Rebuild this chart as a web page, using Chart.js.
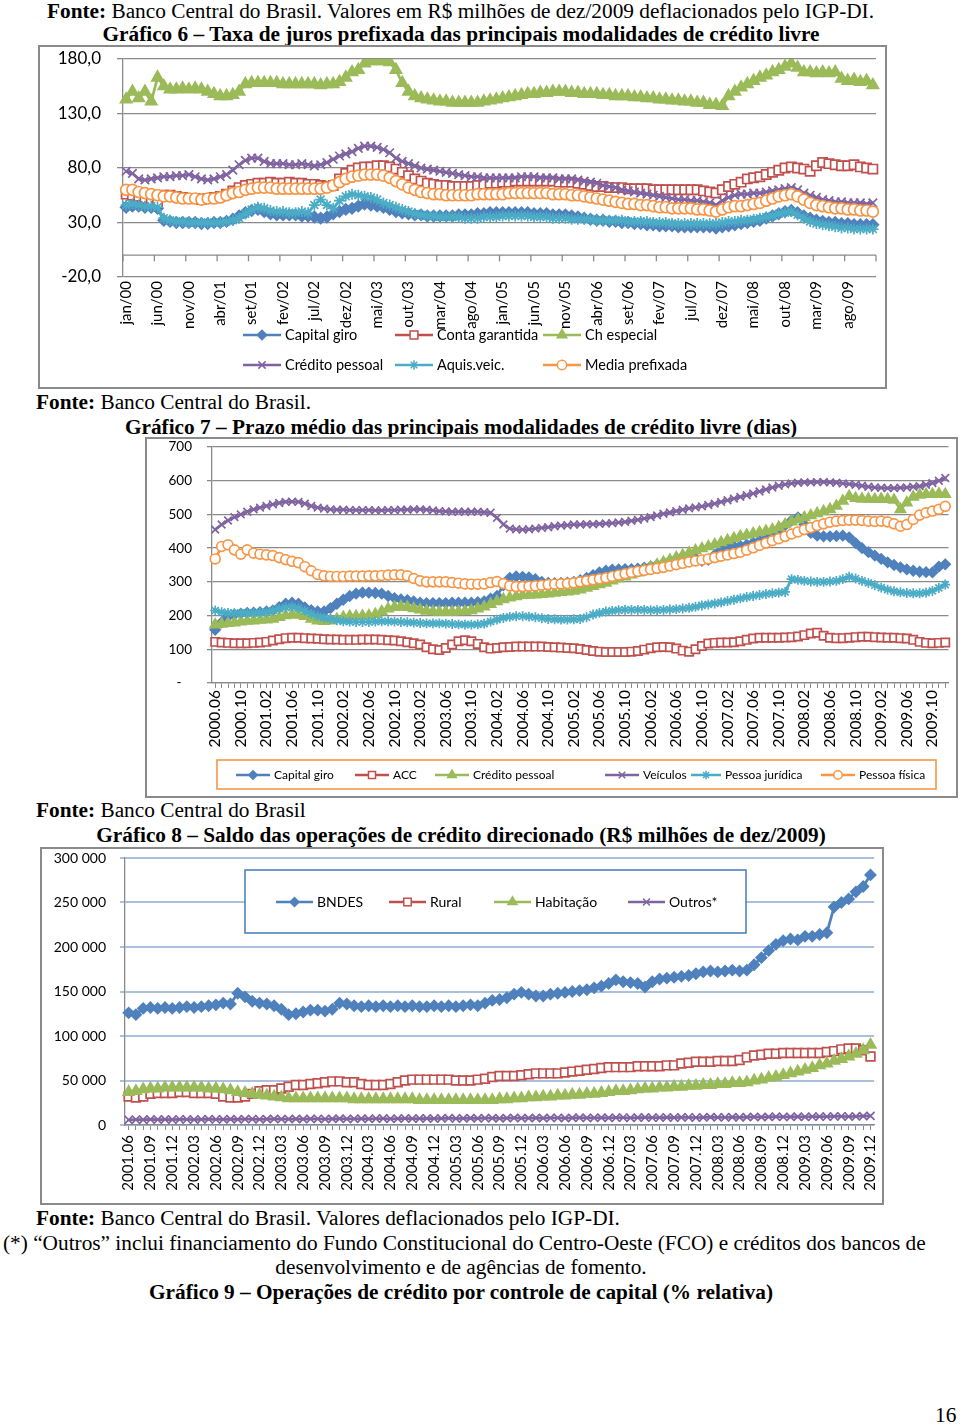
<!DOCTYPE html>
<html lang="pt-BR">
<head>
<meta charset="utf-8">
<title>Gráficos 6 a 8 – crédito livre e direcionado</title>
<script src="https://cdn.jsdelivr.net/npm/chart.js@4"></script>
<style>
  body { margin: 0; background: #fff; width: 960px; height: 1425px; position: relative; overflow: hidden; }
  .t { position: absolute; font-family: 'Liberation Serif', 'Times New Roman', serif; font-size: 21.3px;
       line-height: 24px; white-space: nowrap; color: #000; }
  .c { left: 0; width: 922px; text-align: center; }
  .b { font-weight: bold; }
  canvas { position: absolute; }
  .caixa { position: absolute; border: 2px solid #8a8a8a; box-sizing: border-box; }
</style>
</head>
<body>

<div class="t" style="left:47px;top:-1px"><b>Fonte:</b> Banco Central do Brasil. Valores em R$ milhões de dez/2009 deflacionados pelo IGP-DI.</div>
<div class="t c b" style="top:22px">Gráfico 6 – Taxa de juros prefixada das principais modalidades de crédito livre</div>

<canvas id="g6" width="847" height="342" style="left:39px;top:46px"></canvas>
<div class="caixa" style="left:38px;top:45px;width:849px;height:344px"></div>

<div class="t" style="left:36px;top:390px"><b>Fonte:</b> Banco Central do Brasil.</div>
<div class="t c b" style="top:415px">Gráfico 7 – Prazo médio das principais modalidades de crédito livre (dias)</div>

<canvas id="g7" width="810" height="357" style="left:146px;top:439px"></canvas>
<div class="caixa" style="left:145px;top:437px;width:813px;height:361px"></div>

<div class="t" style="left:36px;top:798px"><b>Fonte:</b> Banco Central do Brasil</div>
<div class="t c b" style="top:823px">Gráfico 8 – Saldo das operações de crédito direcionado (R$ milhões de dez/2009)</div>

<canvas id="g8" width="841" height="356" style="left:41px;top:848px"></canvas>
<div class="caixa" style="left:40px;top:847px;width:844px;height:358px"></div>

<div class="t" style="left:36px;top:1206px"><b>Fonte:</b> Banco Central do Brasil. Valores deflacionados pelo IGP-DI.</div>
<div class="t" style="left:3px;top:1231px">(*) “Outros” inclui financiamento do Fundo Constitucional do Centro-Oeste (FCO) e créditos dos bancos de</div>
<div class="t c" style="top:1255px">desenvolvimento e de agências de fomento.</div>
<div class="t c b" style="top:1280px">Gráfico 9 – Operações de crédito por controle de capital (% relativa)</div>
<div class="t" style="left:935px;top:1403px">16</div>

<script>
// ---------- rótulos ----------
const mesesAbrev = ['jan', 'fev', 'mar', 'abr', 'mai', 'jun', 'jul', 'ago', 'set', 'out', 'nov', 'dez'];

const rotulos6 = [];   // jan/00 .. dez/09
for (let a = 2000; a <= 2009; a++) {
    for (const m of mesesAbrev) rotulos6.push(m + '/' + String(a).slice(2));
}
const rotulos7 = [];   // 2000.06 .. 2009.12
const rotulos8 = [];   // 2001.06 .. 2009.12
for (let a = 2000; a <= 2009; a++) {
    for (let m = 1; m <= 12; m++) {
        const r = a + '.' + String(m).padStart(2, '0');
        if (a > 2000 || m >= 6) rotulos7.push(r);
        if (a > 2001 || (a === 2001 && m >= 6)) rotulos8.push(r);
    }
}

// ---------- Gráfico 6: taxa de juros (% a.a.) ----------
const capitalGiro6 = [
    44, 45, 45, 44, 44, 43, 32, 31, 30, 30,
    30, 30, 29, 29, 30, 30, 31, 33, 36, 39,
    41, 42, 40, 38, 37, 37, 37, 37, 36, 36,
    35, 34, 35, 38, 40, 42, 43, 45, 47, 46,
    45, 44, 42, 40, 39, 38, 37, 37, 36, 36,
    36, 36, 36, 37, 37, 37, 38, 38, 39, 39,
    39, 39, 39, 39, 39, 38, 38, 38, 37, 37,
    37, 36, 35, 34, 33, 32, 32, 31, 31, 30,
    30, 29, 29, 28, 28, 27, 27, 27, 26, 26,
    26, 26, 26, 26, 25, 26, 27, 28, 29, 30,
    31, 32, 34, 36, 38, 40, 41, 39, 36, 34,
    32, 31, 30, 30, 29, 29, 28, 28, 28, 28
];
const contaGarantida6 = [
    56, 55, 54, 52, 50, 48, 55, 55, 54, 53,
    52, 52, 51, 52, 53, 54, 56, 59, 62, 64,
    65, 66, 66, 67, 66, 66, 67, 66, 66, 65,
    65, 64, 63, 64, 70, 75, 78, 80, 81, 81,
    82, 82, 81, 79, 76, 73, 70, 68, 66, 65,
    64, 64, 63, 63, 63, 63, 64, 65, 66, 66,
    67, 67, 68, 68, 68, 68, 68, 68, 68, 67,
    67, 67, 66, 65, 64, 63, 63, 62, 62, 62,
    61, 61, 61, 61, 60, 60, 60, 60, 60, 60,
    60, 60, 59, 58, 57, 60, 63, 65, 67, 70,
    71, 72, 74, 76, 78, 80, 81, 80, 79, 77,
    82, 85, 84, 83, 82, 82, 83, 81, 80, 79
];
const chEspecial6 = [
    143, 150, 144, 150, 141, 163, 155, 152, 152, 153,
    152, 153, 152, 150, 148, 146, 146, 147, 150, 157,
    158, 158, 158, 158, 158, 157, 157, 157, 157, 157,
    157, 156, 157, 157, 159, 163, 168, 170, 176, 178,
    178, 178, 177, 170, 158, 150, 146, 144, 143, 142,
    141, 141, 140, 140, 140, 140, 140, 141, 142, 143,
    144, 145, 146, 147, 148, 148, 149, 149, 150, 150,
    150, 149, 149, 148, 148, 148, 147, 147, 146, 146,
    146, 145, 145, 144, 144, 143, 143, 142, 142, 141,
    141, 140, 140, 138, 138, 137, 146, 150, 154, 157,
    160, 163, 165, 168, 170, 173, 176, 172, 168, 168,
    167, 168, 167, 168, 162, 160, 161, 159, 160, 156
];
const creditoPessoal6 = [
    77, 75, 70, 69, 70, 71, 72, 72, 73, 73,
    74, 72, 70, 69, 70, 72, 74, 78, 83, 87,
    89, 89, 86, 84, 84, 84, 83, 83, 84, 83,
    82, 83, 85, 88, 91, 93, 95, 98, 100, 100,
    99, 97, 94, 89, 86, 84, 82, 80, 79, 78,
    77, 76, 75, 74, 73, 72, 72, 71, 71, 71,
    71, 71, 71, 72, 72, 72, 71, 71, 71, 70,
    70, 70, 69, 68, 67, 66, 64, 63, 62, 60,
    59, 58, 57, 56, 55, 54, 53, 52, 51, 51,
    50, 50, 49, 48, 46, 50, 53, 55, 56, 56,
    57, 57, 58, 59, 60, 61, 62, 60, 57, 55,
    53, 51, 50, 49, 49, 48, 48, 48, 47, 48
];
const aquisVeic6 = [
    46, 47, 46, 45, 45, 44, 34, 32, 31, 31,
    30, 30, 30, 30, 30, 30, 31, 32, 34, 38,
    42, 44, 43, 41, 40, 40, 39, 39, 40, 39,
    46, 51, 46, 43, 50, 54, 56, 55, 54, 53,
    51, 48, 46, 44, 42, 40, 38, 37, 36, 36,
    35, 35, 35, 35, 34, 34, 34, 35, 35, 35,
    36, 36, 36, 36, 36, 35, 35, 35, 34, 34,
    34, 33, 33, 33, 33, 32, 32, 32, 32, 32,
    31, 31, 31, 31, 30, 30, 30, 29, 29, 29,
    29, 29, 29, 29, 29, 30, 31, 31, 32, 32,
    33, 34, 35, 36, 38, 39, 40, 37, 34, 31,
    29, 28, 27, 26, 25, 25, 24, 24, 24, 24
];
const mediaPrefixada6 = [
    60, 60, 58, 57, 56, 55, 54, 54, 53, 52,
    52, 52, 51, 52, 52, 53, 55, 57, 58, 60,
    61, 62, 62, 62, 61, 61, 61, 61, 61, 61,
    61, 61, 62, 64, 67, 70, 72, 73, 74, 74,
    74, 73, 71, 68, 65, 62, 60, 58, 57, 56,
    56, 55, 55, 55, 55, 55, 56, 56, 56, 56,
    56, 57, 57, 57, 57, 57, 57, 57, 56, 56,
    56, 55, 55, 54, 53, 52, 51, 50, 49, 48,
    47, 47, 46, 46, 45, 44, 44, 43, 43, 43,
    43, 42, 42, 41, 40, 42, 44, 45, 45, 46,
    47, 48, 50, 52, 54, 55, 56, 54, 51, 48,
    46, 45, 44, 43, 43, 42, 42, 41, 41, 40
];

// ---------- Gráfico 7: prazo médio (dias) ----------
const capitalGiro7 = [
    158, 180, 197, 203, 206, 208, 209, 210, 212, 215,
    225, 235, 238, 235, 224, 216, 212, 212, 222, 235,
    247, 258, 265, 268, 268, 267, 265, 258, 252, 248,
    246, 242, 238, 237, 237, 237, 237, 238, 238, 238,
    238, 240, 242, 250, 258, 290, 312, 316, 315, 313,
    308, 300, 297, 296, 297, 298, 300, 305, 312, 320,
    328, 333, 336, 337, 338, 338, 339, 342, 346, 350,
    356, 362, 368, 374, 377, 370, 362, 365, 380, 395,
    403, 405, 407, 410, 416, 422, 428, 435, 450, 468,
    482, 491, 470, 445, 437, 435, 435, 436, 437, 432,
    415, 400, 388, 378, 368, 358, 350, 343, 337, 333,
    330, 329, 328, 345, 352
];
const acc7 = [
    122, 120, 119, 118, 118, 118, 119, 120, 122, 126,
    130, 133, 134, 134, 133, 132, 131, 130, 129, 129,
    128, 128, 128, 129, 129, 129, 128, 127, 126, 124,
    121, 118, 114, 106, 100, 98, 104, 114, 124, 127,
    124, 116, 106, 102, 104, 106, 107, 108, 108, 108,
    108, 108, 107, 106, 105, 104, 103, 101, 98, 95,
    93, 92, 92, 92, 92, 93, 95, 99, 103, 106,
    107, 106, 102, 96, 93, 100, 110, 117, 119, 120,
    120, 121, 124, 128, 132, 134, 134, 134, 134, 135,
    136, 138, 142, 147, 149, 140, 134, 133, 133, 134,
    136, 137, 137, 136, 135, 134, 134, 133, 132, 128,
    122, 119, 118, 119, 120
];
const creditoPessoal7 = [
    173, 175, 177, 179, 182, 184, 185, 187, 188, 190,
    195, 200, 203, 202, 198, 190, 185, 183, 185, 190,
    195, 198, 198, 199, 200, 204, 212, 220, 225, 227,
    225, 221, 217, 214, 212, 211, 211, 211, 212, 213,
    215, 220, 226, 234, 242, 248, 253, 257, 260, 261,
    262, 263, 265, 267, 269, 271, 273, 277, 282, 287,
    292, 297, 303, 309, 315, 321, 327, 335, 343, 351,
    358, 365, 372, 379, 386, 393, 399, 405, 411, 417,
    423, 429, 435, 439, 443, 447, 451, 455, 462, 470,
    478, 485, 491, 497, 503, 509, 515, 525, 540, 554,
    548, 546, 546, 545, 546, 545, 543, 515, 535, 552,
    558, 560, 560, 561, 560
];
const veiculos7 = [
    455, 470, 482, 492, 500, 508, 515, 520, 525, 530,
    534, 537, 538, 537, 532, 525, 520, 517, 515, 514,
    514, 513, 513, 513, 513, 512, 512, 513, 513, 514,
    514, 515, 515, 514, 512, 510, 509, 508, 508, 508,
    508, 508, 507, 505, 490, 470, 458, 456, 455, 456,
    458, 460, 462, 465, 467, 468, 470, 470, 471, 471,
    472, 473, 474, 476, 478, 481, 484, 488, 492, 497,
    502, 506, 510, 514, 518, 521, 524, 528, 532, 537,
    542, 547, 552, 557, 562, 568, 574, 580, 585, 589,
    592, 594, 595, 595, 596, 596, 595, 594, 592, 590,
    588, 585, 582, 580, 579, 578, 578, 579, 580, 582,
    584, 588, 593, 600, 608
];
const pessoaJuridica7 = [
    215, 210, 208, 207, 207, 208, 208, 209, 210, 215,
    220, 224, 226, 222, 214, 205, 198, 193, 190, 186,
    183, 182, 181, 181, 181, 182, 183, 183, 182, 181,
    180, 179, 178, 177, 177, 177, 176, 175, 174, 173,
    173, 174, 176, 182, 188, 193, 196, 198, 198, 197,
    195, 192, 190, 189, 188, 188, 189, 190, 195, 203,
    208, 212, 214, 216, 217, 217, 217, 217, 216, 216,
    217, 218, 219, 221, 223, 226, 230, 233, 236, 239,
    243, 247, 251, 255, 258, 261, 264, 266, 268, 270,
    308, 306, 303, 301, 300, 300, 301, 303, 308, 315,
    310, 303, 297, 290, 283, 277, 272, 269, 267, 266,
    266, 268, 273, 282, 292
];
const pessoaFisica7 = [
    368, 405, 410, 395, 382, 395, 385, 382, 380, 378,
    372, 366, 361, 357, 345, 333, 322, 318, 316, 316,
    316, 317, 317, 317, 318, 318, 319, 320, 321, 321,
    318, 310, 303, 300, 300, 300, 300, 298, 296, 294,
    293, 293, 294, 298, 301, 295, 288, 286, 286, 287,
    288, 290, 292, 293, 294, 295, 297, 300, 303, 306,
    309, 312, 316, 320, 324, 328, 331, 334, 337, 340,
    343, 347, 351, 355, 359, 362, 365, 368, 372, 376,
    380, 384, 388, 394, 401, 408, 415, 422, 428, 435,
    442, 448, 455, 461, 467, 472, 477, 480, 482, 483,
    483, 482, 480, 479, 480, 478, 472, 465, 470, 485,
    498, 505, 510, 515, 524
];

// ---------- Gráfico 8: saldo crédito direcionado (R$ milhões) ----------
const bndes8 = [
    126000, 124000, 131000, 132000, 131000, 132000, 131000, 132000, 133000, 132000,
    133000, 134000, 135000, 137000, 136000, 148000, 144000, 139000, 137000, 136000,
    134000, 130000, 124000, 125000, 127000, 129000, 129000, 128000, 130000, 137000,
    136000, 134000, 133000, 134000, 133000, 134000, 133000, 134000, 133000, 134000,
    133000, 133000, 134000, 133000, 134000, 133000, 134000, 135000, 134000, 137000,
    140000, 141000, 143000, 147000, 149000, 147000, 145000, 145000, 147000, 148000,
    149000, 150000, 151000, 152000, 154000, 156000, 159000, 163000, 161000, 160000,
    159000, 155000, 161000, 164000, 165000, 166000, 167000, 168000, 170000, 172000,
    173000, 172000, 173000, 174000, 173000, 174000, 180000, 188000, 196000, 203000,
    207000, 209000, 208000, 212000, 212000, 214000, 216000, 245000, 250000, 254000,
    262000, 268000, 281000
];
const rural8 = [
    32000, 31000, 32000, 35000, 36000, 36000, 36000, 37000, 37000, 36000,
    36000, 36000, 35000, 32000, 31000, 31000, 32000, 35000, 38000, 39000,
    39000, 41000, 43000, 45000, 45000, 46000, 47000, 48000, 49000, 49000,
    48000, 48000, 46000, 45000, 45000, 45000, 46000, 48000, 50000, 51000,
    51000, 51000, 51000, 51000, 51000, 50000, 50000, 50000, 51000, 52000,
    54000, 55000, 55000, 55000, 56000, 57000, 58000, 58000, 58000, 58000,
    59000, 60000, 61000, 62000, 63000, 64000, 65000, 65000, 65000, 65000,
    66000, 66000, 66000, 66000, 67000, 67000, 69000, 70000, 71000, 71000,
    71000, 72000, 72000, 72000, 73000, 76000, 78000, 79000, 80000, 80000,
    81000, 81000, 81000, 81000, 81000, 81000, 82000, 83000, 85000, 86000,
    86000, 84000, 77000
];
const habitacao8 = [
    37000, 38000, 40000, 41000, 41000, 42000, 42000, 42000, 42000, 42000,
    42000, 41000, 41000, 40000, 39000, 37000, 36000, 35000, 34000, 33000,
    32000, 31000, 30000, 30000, 30000, 30000, 30000, 30000, 30000, 30000,
    30000, 29000, 29000, 29000, 29000, 29000, 29000, 29000, 29000, 29000,
    28000, 28000, 28000, 28000, 28000, 28000, 28000, 28000, 28000, 28000,
    28000, 29000, 29000, 30000, 30000, 31000, 31000, 32000, 32000, 33000,
    33000, 34000, 34000, 35000, 35000, 36000, 37000, 38000, 38000, 39000,
    40000, 41000, 41000, 42000, 42000, 43000, 43000, 44000, 44000, 45000,
    45000, 46000, 46000, 47000, 47000, 48000, 50000, 51000, 53000, 54000,
    56000, 58000, 60000, 62000, 64000, 67000, 69000, 72000, 74000, 77000,
    80000, 84000, 90000
];
const outros8 = [
    5800, 6100, 5900, 6200, 6000, 6300, 6100, 6400, 6200, 6000,
    6300, 6500, 6200, 6400, 6600, 6300, 6500, 6700, 6400, 6600,
    6800, 6500, 6700, 6900, 6600, 6800, 7000, 6700, 6900, 7100,
    6800, 7000, 7200, 6900, 7100, 7300, 7000, 7200, 7400, 7100,
    7300, 7500, 7200, 7400, 7600, 7300, 7500, 7700, 7400, 7600,
    7800, 7500, 7700, 7900, 7600, 7800, 8000, 7700, 7900, 8100,
    7800, 8000, 8200, 7900, 8100, 8300, 8000, 8200, 8400, 8100,
    8300, 8500, 8200, 8400, 8600, 8300, 8500, 8700, 8400, 8600,
    8800, 8500, 8700, 8900, 8600, 8800, 9000, 8800, 9100, 9300,
    9000, 9200, 9400, 9100, 9300, 9500, 9300, 9600, 9800, 9500,
    9700, 10000, 10200
];

// ---------- estilos (cores padrão do Excel 2007) ----------
const AZUL = '#4F81BD', VERMELHO = '#C0504D', VERDE = '#9BBB59',
      ROXO = '#8064A2', CIANO = '#4BACC6', LARANJA = '#F79646';
const CINZA = '#8a8a8a';

Chart.defaults.font.family = "Lato, 'Open Sans', sans-serif";
Chart.defaults.color = '#000';

// marcadores: [estilo, raio, preenchimento]
const marcadores = {
    [AZUL]: ['rectRot', 5.5, AZUL],
    [VERMELHO]: ['rect', 6.5, '#fff'],
    [VERDE]: ['triangle', 6.5, VERDE],
    [ROXO]: ['crossRot', 6, ROXO],
    [CIANO]: ['star', 5.5, CIANO],
    [LARANJA]: ['circle', 5.5, '#fff']
};

function serie(label, data, cor, idx, total, escala) {
    const m = marcadores[cor];
    return {
        label: label,
        data: data,
        borderColor: cor,
        backgroundColor: cor,
        borderWidth: 2.75,
        pointStyle: m[0],
        pointRadius: m[1] * (escala || 1),
        pointBackgroundColor: m[2],
        pointBorderColor: cor,
        pointBorderWidth: 1.7,
        tension: 0,
        fill: false,
        order: total - idx // séries posteriores ficam por cima, como no Excel
    };
}

// legenda desenhada no canvas (linha + marcador + texto)
const legendaPlugin = {
    id: 'legenda',
    afterDraw(chart, args, opts) {
        if (!opts.itens) return;
        const ctx = chart.ctx;
        ctx.save();
        if (opts.caixa) {
            const c = opts.caixa;
            ctx.fillStyle = '#fff';
            ctx.fillRect(c.x, c.y, c.w, c.h);
            ctx.strokeStyle = c.cor;
            ctx.lineWidth = 1.6;
            ctx.strokeRect(c.x, c.y, c.w, c.h);
        }
        opts.itens.forEach(it => {
            const ds = chart.data.datasets[it.ds];
            const comp = it.comp || opts.comp;
            ctx.strokeStyle = ds.borderColor;
            ctx.lineWidth = 2.5;
            ctx.beginPath();
            ctx.moveTo(it.x, it.y);
            ctx.lineTo(it.x + comp, it.y);
            ctx.stroke();
            ctx.fillStyle = ds.pointBackgroundColor;
            ctx.strokeStyle = ds.pointBorderColor;
            ctx.lineWidth = 1.5;
            if (Chart.helpers && Chart.helpers.drawPoint) {
                Chart.helpers.drawPoint(ctx, {
                    pointStyle: ds.pointStyle, radius: ds.pointRadius * 0.85, borderWidth: 1.5, rotation: 0
                }, it.x + comp / 2, it.y);
            }
            ctx.fillStyle = '#000';
            ctx.font = opts.fonte;
            ctx.textBaseline = 'middle';
            ctx.textAlign = 'left';
            if (it.w) {
                ctx.fillText(ds.label, it.x + comp + 4, it.y, it.w);
            } else {
                ctx.fillText(ds.label, it.x + comp + 4, it.y);
            }
        });
        ctx.restore();
    }
};

// eixo horizontal cruzando em zero (gráfico 6)
const linhaZero = {
    id: 'linhaZero',
    beforeDatasetsDraw(chart, args, opts) {
        if (!opts.cada) return;
        const {ctx, chartArea, scales: {x, y}} = chart;
        const py = y.getPixelForValue(0);
        const meia = (x.getPixelForValue(1) - x.getPixelForValue(0)) / 2;
        ctx.save();
        ctx.strokeStyle = CINZA;
        ctx.lineWidth = 1.3;
        ctx.beginPath();
        ctx.moveTo(chartArea.left, py);
        ctx.lineTo(chartArea.right, py);
        for (let i = 0; i <= chart.data.labels.length; i += opts.cada) {
            const px = x.getPixelForValue(i) - meia;
            ctx.moveTo(px, py);
            ctx.lineTo(px, py + 6);
        }
        ctx.stroke();
        ctx.restore();
    }
};

function eixoY(largura, cfg) {
    return Object.assign({
        afterFit: s => { s.width = largura; s.paddingTop = 0; s.paddingBottom = 0; }
    }, cfg);
}
function eixoX(altura, cfg) {
    return Object.assign({
        type: 'category',
        offset: true,
        afterFit: s => { s.height = altura; s.paddingLeft = 0; s.paddingRight = 0; }
    }, cfg);
}

// ---------- Gráfico 6 ----------
const series6 = [
    ['Capital giro', capitalGiro6, AZUL],
    ['Conta garantida', contaGarantida6, VERMELHO],
    ['Ch especial', chEspecial6, VERDE],
    ['Crédito pessoal', creditoPessoal6, ROXO],
    ['Aquis.veic.', aquisVeic6, CIANO],
    ['Media prefixada', mediaPrefixada6, LARANJA]
];
new Chart(document.getElementById('g6'), {
    type: 'line',
    data: {
        labels: rotulos6,
        datasets: series6.map((s, i) => serie(s[0], s[1], s[2], i, series6.length))
    },
    options: {
        responsive: false,
        animation: false,
        devicePixelRatio: 1,
        layout: { padding: { left: 0, top: 13, right: 10, bottom: 58 } },
        plugins: {
            legend: { display: false },
            tooltip: { enabled: false },
            linhaZero: { cada: 5 },
            legenda: {
                comp: 38,
                fonte: '14.5px Lato',
                itens: [
                    { ds: 0, x: 204, y: 289 }, { ds: 1, x: 356, y: 289 }, { ds: 2, x: 504, y: 289 },
                    { ds: 3, x: 204, y: 319 }, { ds: 4, x: 356, y: 319 }, { ds: 5, x: 504, y: 319 }
                ]
            }
        },
        scales: {
            x: eixoX(53, {
                grid: { display: false, drawTicks: false },
                border: { display: false },
                ticks: {
                    autoSkip: false, maxRotation: 90, minRotation: 90, padding: 4,
                    font: { size: 15 },
                    callback: (v, i) => (i % 5 === 0 ? rotulos6[i] : '')
                }
            }),
            y: eixoY(84, {
                min: -20, max: 180,
                grid: { color: CINZA, lineWidth: 1.3, tickLength: 6 },
                border: { color: CINZA, width: 1.3 },
                ticks: {
                    stepSize: 50, padding: 16, font: { size: 17 },
                    callback: v => v.toFixed(1).replace('.', ',')
                }
            })
        }
    },
    plugins: [linhaZero, legendaPlugin]
});

// ---------- Gráfico 7 ----------
const series7 = [
    ['Capital giro', capitalGiro7, AZUL],
    ['ACC', acc7, VERMELHO],
    ['Crédito pessoal', creditoPessoal7, VERDE],
    ['Veículos', veiculos7, ROXO],
    ['Pessoa jurídica', pessoaJuridica7, CIANO],
    ['Pessoa física', pessoaFisica7, LARANJA]
];
new Chart(document.getElementById('g7'), {
    type: 'line',
    data: {
        labels: rotulos7,
        datasets: series7.map((s, i) => serie(s[0], s[1], s[2], i, series7.length, 0.9))
    },
    options: {
        responsive: false,
        animation: false,
        devicePixelRatio: 1,
        layout: { padding: { left: 0, top: 8, right: 6, bottom: 46 } },
        plugins: {
            legend: { display: false },
            tooltip: { enabled: false },
            legenda: {
                comp: 34,
                fonte: '12px Lato',
                caixa: { x: 71, y: 321, w: 719, h: 29, cor: LARANJA },
                itens: [
                    { ds: 0, x: 90, y: 336, w: 62 }, { ds: 1, x: 209, y: 336, w: 24 },
                    { ds: 2, x: 289, y: 336, w: 84 }, { ds: 3, x: 459, y: 336, w: 44 },
                    { ds: 4, x: 545, y: 336, w: 78, comp: 30 }, { ds: 5, x: 675, y: 336, w: 69 }
                ]
            }
        },
        scales: {
            x: eixoX(67, {
                grid: { drawOnChartArea: false, color: CINZA, lineWidth: 1, tickLength: 5 },
                border: { color: CINZA, width: 1.3 },
                ticks: {
                    autoSkip: false, maxRotation: 90, minRotation: 90, padding: 2,
                    font: { size: 15.5 },
                    callback: (v, i) => (i % 4 === 0 ? rotulos7[i] : '')
                }
            }),
            y: eixoY(66, {
                min: 0, max: 700,
                grid: { color: CINZA, lineWidth: 1.3, tickLength: 5 },
                border: { color: CINZA, width: 1.3 },
                ticks: {
                    stepSize: 100, padding: 15, font: { size: 13.5 },
                    callback: v => (v === 0 ? '-   ' : String(v))
                }
            })
        }
    },
    plugins: [legendaPlugin]
});

// ---------- Gráfico 8 ----------
const series8 = [
    ['BNDES', bndes8, AZUL],
    ['Rural', rural8, VERMELHO],
    ['Habitação', habitacao8, VERDE],
    ['Outros*', outros8, ROXO]
];
new Chart(document.getElementById('g8'), {
    type: 'line',
    data: {
        labels: rotulos8,
        datasets: series8.map((s, i) => serie(s[0], s[1], s[2], i, series8.length, 0.95))
    },
    options: {
        responsive: false,
        animation: false,
        devicePixelRatio: 1,
        layout: { padding: { left: 0, top: 10, right: 2, bottom: 9 } },
        plugins: {
            legend: { display: false },
            tooltip: { enabled: false },
            legenda: {
                comp: 37,
                fonte: '14px Lato',
                caixa: { x: 204, y: 22, w: 501, h: 63, cor: AZUL },
                itens: [
                    { ds: 0, x: 235, y: 54 }, { ds: 1, x: 348, y: 54 },
                    { ds: 2, x: 453, y: 54 }, { ds: 3, x: 587, y: 54 }
                ]
            }
        },
        scales: {
            x: eixoX(70, {
                grid: { drawOnChartArea: false, color: CINZA, lineWidth: 1, tickLength: 5 },
                border: { color: CINZA, width: 1.3 },
                ticks: {
                    autoSkip: false, maxRotation: 90, minRotation: 90, padding: 5,
                    font: { size: 15 },
                    callback: (v, i) => (i % 3 === 0 ? rotulos8[i] : '')
                }
            }),
            y: eixoY(84, {
                min: 0, max: 300000,
                grid: { color: '#a9c1de', lineWidth: 2, tickLength: 5 },
                border: { color: CINZA, width: 1.3 },
                ticks: {
                    stepSize: 50000, padding: 14, font: { size: 14 },
                    callback: v => String(v).replace(/\B(?=(\d{3})+(?!\d))/g, ' ')
                }
            })
        }
    },
    plugins: [legendaPlugin]
});
</script>
</body>
</html>
